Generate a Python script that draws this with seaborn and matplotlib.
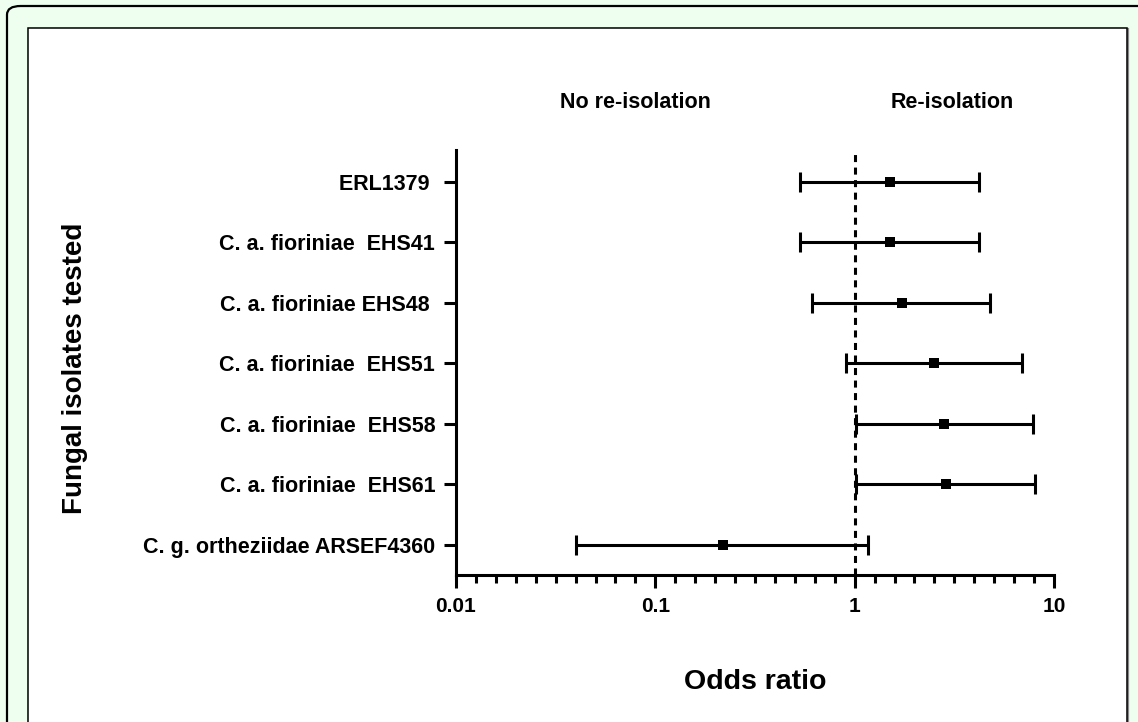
import numpy as np
import pandas as pd
import matplotlib
matplotlib.use("Agg")
import matplotlib.pyplot as plt
from matplotlib.patches import FancyBboxPatch, Rectangle
from matplotlib.ticker import NullFormatter, FixedLocator, FixedFormatter
import seaborn as sns

# ── data ───────────────────────────────────────────────────────────────────
isolates = [
    "ERL1379 ",
    "C. a. fioriniae  EHS41",
    "C. a. fioriniae EHS48 ",
    "C. a. fioriniae  EHS51",
    "C. a. fioriniae  EHS58",
    "C. a. fioriniae  EHS61",
    "C. g. ortheziidae ARSEF4360",
]
odds_ratio = [1.51, 1.51, 1.73, 2.50, 2.81, 2.88, 0.219]
ci_low     = [0.53, 0.53, 0.61, 0.905, 1.01, 1.02, 0.040]
ci_high    = [4.21, 4.21, 4.78, 6.92, 7.85, 8.04, 1.17]

x_ticks  = [0.01, 0.1, 1, 10]
x_labels = ["0.01", "0.1", "1", "10"]

df = pd.DataFrame({"isolate": isolates, "pos": np.arange(len(isolates)),
                   "or": odds_ratio, "lo": ci_low, "hi": ci_high})

sns.set_style("ticks")
plt.rcParams["font.family"] = ["Liberation Sans", "DejaVu Sans"]
plt.rcParams["font.weight"] = "bold"
for key in ["text.color", "axes.labelcolor", "xtick.color", "ytick.color",
            "axes.edgecolor"]:
    plt.rcParams[key] = "black"

W, H = 1138, 722
fig = plt.figure(figsize=(W / 100, H / 100), dpi=100)
fig.patch.set_facecolor("#eefff0")

# outer rounded frame + white inner panel (drawn under the axes)
frame = FancyBboxPatch((7 / W, -0.2), 1.2, 1 - 6 / H + 0.2,
                       boxstyle="round,pad=0,rounding_size=0.012",
                       transform=fig.transFigure, facecolor="#eefff0",
                       edgecolor="black", lw=1.6, zorder=-3)
fig.patches.append(frame)
shadow = Rectangle((29 / W, -0.1), (1127 - 28) / W, 1 - 29 / H + 0.1,
                   transform=fig.transFigure, facecolor="none",
                   edgecolor="#888888", lw=1.6, zorder=-2)
fig.patches.append(shadow)
panel = Rectangle((28 / W, -0.1), (1127 - 28) / W, 1 - 28 / H + 0.1,
                  transform=fig.transFigure, facecolor="white",
                  edgecolor="black", lw=1.1, zorder=-1)
fig.patches.append(panel)

ax = fig.add_axes([456 / W, (H - 575) / H, 598 / W, 425 / H])
ax.set_facecolor("none")

lw = 2.2
ax.errorbar(df["or"], df["pos"],
            xerr=[df["or"] - df["lo"], df["hi"] - df["or"]],
            fmt="none", ecolor="black", elinewidth=lw, capsize=7,
            capthick=lw, zorder=3)
sns.scatterplot(data=df, x="or", y="pos", marker="s", s=50, color="black",
                edgecolor="black", linewidth=0, zorder=4, ax=ax, legend=False)
ax.axvline(1, color="black", lw=lw, ls=(0, (2.3, 1.8)), zorder=2)

ax.set_xscale("log")
ax.set_xlim(0.01, 10)
ax.set_ylim(6.5, -0.53)

# Prism-style minor ticks: evenly spaced, ten per decade
ax.xaxis.set_major_locator(FixedLocator(x_ticks))
ax.xaxis.set_major_formatter(FixedFormatter(x_labels))
ax.xaxis.set_minor_locator(FixedLocator(np.logspace(-2, 1, 31)))
ax.xaxis.set_minor_formatter(NullFormatter())
ax.set_yticks(df["pos"])
ax.set_yticklabels(df["isolate"])

for s in ["top", "right"]:
    ax.spines[s].set_visible(False)
for s in ["left", "bottom"]:
    ax.spines[s].set_linewidth(lw)

ax.tick_params(axis="x", which="major", length=9.5, width=lw, pad=6,
               labelsize=15)
ax.tick_params(axis="x", which="minor", length=5.5, width=lw)
ax.tick_params(axis="y", length=8.5, width=lw, pad=6.5, labelsize=15.5)
for t in ax.get_xticklabels() + ax.get_yticklabels():
    t.set_fontweight("bold")

ax.set_xlabel("Odds ratio", fontsize=20.5, fontweight="bold")
ax.xaxis.label.set_va("center")
ax.xaxis.set_label_coords(0.5, (575 - 682) / 425)
ax.set_ylabel("Fungal isolates tested", fontsize=20, fontweight="bold")
ax.yaxis.label.set_va("center")
ax.yaxis.set_label_coords((75 - 456) / 598, (575 - 368) / 425)

fig.text(635 / W, 1 - 103 / H, "No re-isolation", ha="center", va="center",
         fontsize=15.5, fontweight="bold")
fig.text(952 / W, 1 - 103 / H, "Re-isolation", ha="center", va="center",
         fontsize=15.5, fontweight="bold")

fig.savefig("out.png", dpi=100, facecolor=fig.get_facecolor())
